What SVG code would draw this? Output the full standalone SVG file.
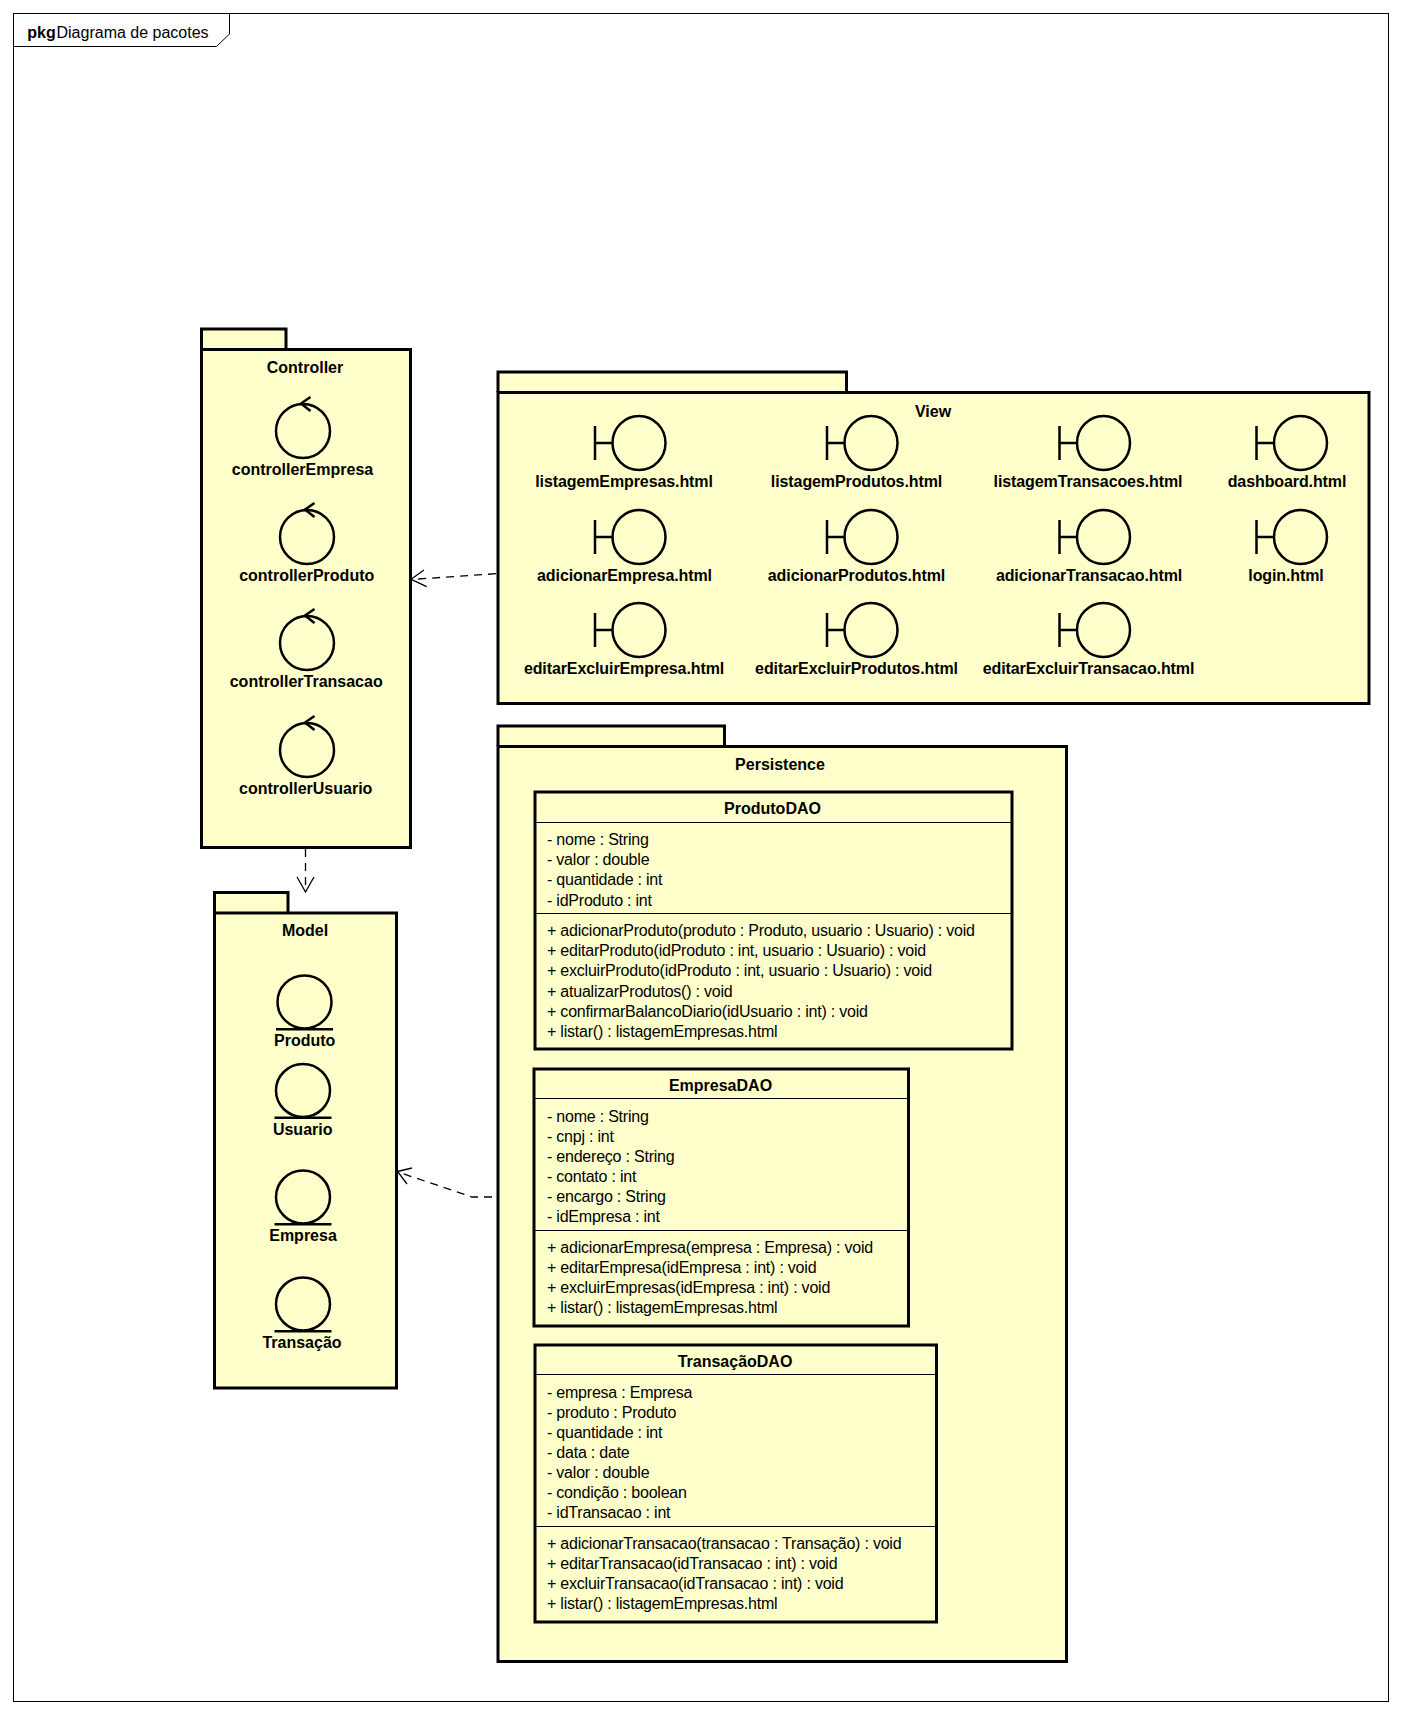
<svg xmlns="http://www.w3.org/2000/svg" width="1401" height="1714" viewBox="0 0 1401 1714">
<style>
text{font-family:"Liberation Sans",Arial,sans-serif;fill:#000}
.b{font-weight:700;font-size:16px;text-anchor:middle}
.v{letter-spacing:-.1px}
.m{font-size:16px;letter-spacing:-.22px}
.t{font-size:16px}
.p{fill:#ffc;stroke:#000;stroke-width:3}
.g{fill:none;stroke:#000;stroke-width:2.5}
.s{fill:none;stroke:#000;stroke-width:1}
.d{fill:none;stroke:#000;stroke-width:1.3;stroke-dasharray:8 6}
.h{fill:none;stroke:#000;stroke-width:1.3}
</style>
<defs>
<g id="ctl"><ellipse class="g" rx="27" ry="27"/><path class="g" stroke-width="2" d="M7.5,-34 L-2,-27.5 L7.5,-20"/></g>
<g id="bnd"><ellipse class="g" rx="26.5" ry="27"/><path class="g" d="M-44,-17V17M-44,0H-26.5"/></g>
<g id="ent"><ellipse class="g" rx="27" ry="26.5"/><path class="g" d="M-28.5,27.3H28.5"/></g>
</defs>
<rect width="1401" height="1714" fill="#fff"/>
<g id="frame">
<rect class="s" x="13.5" y="13.5" width="1375" height="1688"/>
<path class="s" d="M13.5,46.5H216.5L229.5,34V13.5"/>
<text class="t" x="27.3" y="37.5"><tspan font-weight="700">pkg</tspan><tspan x="56.5">Diagrama de pacotes</tspan></text>
</g>
<g id="controller">
<path class="p" d="M201.5,349V329H286V349"/>
<rect class="p" x="201.5" y="349.5" width="209" height="498"/>
<text class="b" x="305" y="373">Controller</text>
<use href="#ctl" x="303" y="431"/><text class="b" x="302.5" y="475">controllerEmpresa</text>
<use href="#ctl" x="307" y="537"/><text class="b" x="306.7" y="581">controllerProduto</text>
<use href="#ctl" x="307" y="643"/><text class="b" x="306.2" y="687">controllerTransacao</text>
<use href="#ctl" x="307" y="750"/><text class="b" x="305.7" y="794">controllerUsuario</text>
</g>
<g id="view">
<path class="p" d="M498,392V372H846.5V392"/>
<rect class="p" x="498" y="392.5" width="871" height="311"/>
<text class="b" x="933" y="417">View</text>
<use href="#bnd" x="639" y="443"/><text class="b v" x="624" y="487">listagemEmpresas.html</text>
<use href="#bnd" x="871" y="443"/><text class="b v" x="856.5" y="487">listagemProdutos.html</text>
<use href="#bnd" x="1103.5" y="443"/><text class="b v" x="1088" y="487">listagemTransacoes.html</text>
<use href="#bnd" x="1300.5" y="443"/><text class="b v" x="1287" y="487">dashboard.html</text>
<use href="#bnd" x="639" y="537"/><text class="b v" x="624.5" y="581">adicionarEmpresa.html</text>
<use href="#bnd" x="871" y="537"/><text class="b v" x="856.5" y="581">adicionarProdutos.html</text>
<use href="#bnd" x="1103.5" y="537"/><text class="b v" x="1089" y="581">adicionarTransacao.html</text>
<use href="#bnd" x="1300.5" y="537"/><text class="b v" x="1286" y="581">login.html</text>
<use href="#bnd" x="639" y="630"/><text class="b v" x="624" y="674">editarExcluirEmpresa.html</text>
<use href="#bnd" x="871" y="630"/><text class="b v" x="856.5" y="674">editarExcluirProdutos.html</text>
<use href="#bnd" x="1103.5" y="630"/><text class="b v" x="1088.5" y="674">editarExcluirTransacao.html</text>
</g>
<g id="model">
<path class="p" d="M214.5,912.5V892.5H288V912.5"/>
<rect class="p" x="214.5" y="913" width="182" height="475"/>
<text class="b" x="305" y="936">Model</text>
<use href="#ent" x="304.5" y="1001.9"/><text class="b" x="304.7" y="1046">Produto</text>
<use href="#ent" x="303" y="1090.5"/><text class="b" x="302.7" y="1135">Usuario</text>
<use href="#ent" x="303" y="1197"/><text class="b" x="303" y="1241">Empresa</text>
<use href="#ent" x="303" y="1304"/><text class="b" x="302" y="1348">Transação</text>
</g>
<g id="persistence">
<path class="p" d="M498,746V726H724.5V746"/>
<rect class="p" x="498" y="746.5" width="568.5" height="915"/>
<text class="b" x="780" y="770">Persistence</text>
</g>
<g id="produtoDAO">
<rect class="p" x="535" y="792" width="477" height="257"/>
<path class="s" d="M535,822.5H1012M535,913.5H1012"/>
<text class="b" x="772.5" y="814">ProdutoDAO</text>
<text class="m" x="547" y="845">- nome : String</text>
<text class="m" x="547" y="865">- valor : double</text>
<text class="m" x="547" y="885">- quantidade : int</text>
<text class="m" x="547" y="905.5">- idProduto : int</text>
<text class="m" x="547" y="935.5">+ adicionarProduto(produto : Produto, usuario : Usuario) : void</text>
<text class="m" x="547" y="955.5">+ editarProduto(idProduto : int, usuario : Usuario) : void</text>
<text class="m" x="547" y="976">+ excluirProduto(idProduto : int, usuario : Usuario) : void</text>
<text class="m" x="547" y="996.5">+ atualizarProdutos() : void</text>
<text class="m" x="547" y="1016.5">+ confirmarBalancoDiario(idUsuario : int) : void</text>
<text class="m" x="547" y="1036.5">+ listar() : listagemEmpresas.html</text>
</g>
<g id="empresaDAO">
<rect class="p" x="534" y="1069" width="374.5" height="257"/>
<path class="s" d="M534,1098.5H908.5M534,1230.5H908.5"/>
<text class="b" x="720.5" y="1091">EmpresaDAO</text>
<text class="m" x="547" y="1122">- nome : String</text>
<text class="m" x="547" y="1142">- cnpj : int</text>
<text class="m" x="547" y="1162">- endereço : String</text>
<text class="m" x="547" y="1182">- contato : int</text>
<text class="m" x="547" y="1202">- encargo : String</text>
<text class="m" x="547" y="1222">- idEmpresa : int</text>
<text class="m" x="547" y="1253">+ adicionarEmpresa(empresa : Empresa) : void</text>
<text class="m" x="547" y="1273">+ editarEmpresa(idEmpresa : int) : void</text>
<text class="m" x="547" y="1293">+ excluirEmpresas(idEmpresa : int) : void</text>
<text class="m" x="547" y="1313">+ listar() : listagemEmpresas.html</text>
</g>
<g id="transacaoDAO">
<rect class="p" x="535" y="1345" width="401.5" height="277"/>
<path class="s" d="M535,1374.5H936.5M535,1526.5H936.5"/>
<text class="b" x="735" y="1367">TransaçãoDAO</text>
<text class="m" x="547" y="1398">- empresa : Empresa</text>
<text class="m" x="547" y="1418">- produto : Produto</text>
<text class="m" x="547" y="1438">- quantidade : int</text>
<text class="m" x="547" y="1458">- data : date</text>
<text class="m" x="547" y="1478">- valor : double</text>
<text class="m" x="547" y="1498">- condição : boolean</text>
<text class="m" x="547" y="1518">- idTransacao : int</text>
<text class="m" x="547" y="1549">+ adicionarTransacao(transacao : Transação) : void</text>
<text class="m" x="547" y="1569">+ editarTransacao(idTransacao : int) : void</text>
<text class="m" x="547" y="1589">+ excluirTransacao(idTransacao : int) : void</text>
<text class="m" x="547" y="1609">+ listar() : listagemEmpresas.html</text>
</g>
<g id="connectors">
<path class="d" d="M496,573.7L411,579.5"/>
<path class="h" d="M424,570L411,579.3L426.7,586.7"/>
<path class="d" d="M305.5,849V892"/>
<path class="h" d="M297,877L305.5,892L314,877"/>
<path class="d" d="M492,1197H472L398,1172"/>
<path class="h" d="M412,1168L397.5,1171.5L407,1184"/>
</g>
</svg>
